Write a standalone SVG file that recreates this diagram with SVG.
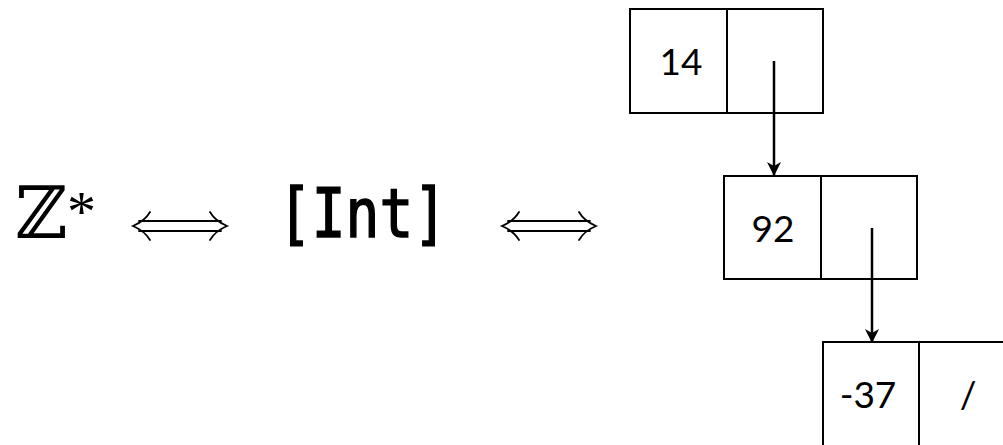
<svg xmlns="http://www.w3.org/2000/svg" width="1003" height="445" viewBox="0 0 1003 445">
<style>
.cell{fill:#fff;stroke:#000;stroke-width:2}
.num{font-family:Lato,"Noto Sans",sans-serif;font-size:37px;fill:#000;text-anchor:middle}
.link{stroke:#000;stroke-width:2.5;fill:none;marker-end:url(#ah)}
.math{font-family:"DejaVu Serif","DejaVu Sans",serif;fill:#000}
.iff{fill:none;stroke:#000;stroke-width:1.8;stroke-linecap:round}
</style>
<defs>
<marker id="ah" viewBox="0 0 14 14" refX="13" refY="7" markerWidth="14" markerHeight="14" markerUnits="userSpaceOnUse" orient="auto">
<path d="M0,0 L14,7 L0,14 L4,7 Z" fill="#000"/>
</marker>
<g id="iffsym">
<path class="iff" d="M17,-14 C13,-7 7,-3 0,0 C7,3 13,7 17,14"/>
<path class="iff" d="M77,-14 C81,-7 87,-3 94,0 C87,3 81,7 77,14"/>
<path class="iff" d="M6,-5 H88 M6,5 H88"/>
</g>
</defs>
<rect width="1003" height="445" fill="#fff"/>
<g id="formula">
<text class="math" x="15" y="238" font-size="72">ℤ</text>
<text x="67" y="231" font-family="'Liberation Serif',serif" font-size="58">*</text>
<use href="#iffsym" x="133" y="226"/>
<text x="278" y="237" font-family="'DejaVu Sans Mono',monospace" font-size="67" textLength="169" lengthAdjust="spacingAndGlyphs" stroke="#000" stroke-width="1.6">[Int]</text>
<use href="#iffsym" x="502" y="226"/>
</g>
<g id="node14">
<rect class="cell" x="630" y="9" width="97" height="104"/>
<rect class="cell" x="727" y="9" width="96" height="104"/>
<text class="num" x="681" y="75">14</text>
</g>
<g id="node92">
<rect class="cell" x="724" y="176" width="97" height="103"/>
<rect class="cell" x="821" y="176" width="96" height="103"/>
<text class="num" x="773" y="242">92</text>
</g>
<g id="node-37">
<rect class="cell" x="823" y="342" width="96" height="110"/>
<rect class="cell" x="919" y="342" width="96" height="110"/>
<text class="num" x="868" y="408">-37</text>
<text class="num" x="968" y="408">/</text>
</g>
<g id="connectors">
<line class="link" x1="774" y1="61" x2="774" y2="175"/>
<line class="link" x1="872" y1="228" x2="872" y2="342"/>
</g>
</svg>
